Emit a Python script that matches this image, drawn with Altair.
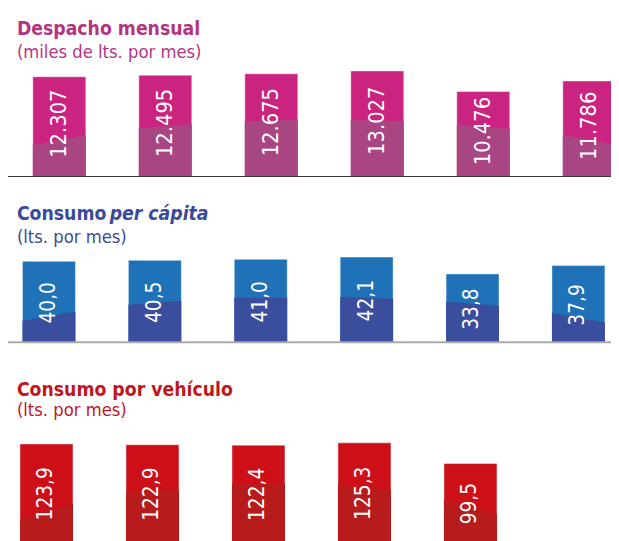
import altair as alt
import pandas as pd

# ---------------- data ----------------
despacho = [12307, 12495, 12675, 13027, 10476, 11786]          # miles de lts. por mes
despacho_shade_l = [3900, 5970, 6820, 6940, 6455, 5115]
despacho_shade_r = [5115, 6455, 7065, 6820, 5845, 3900]

per_capita = [40.0, 40.5, 41.0, 42.1, 33.8, 37.9]               # lts. por mes
per_capita_shade_l = [10.7, 18.5, 22.0, 22.4, 20.0, 14.6]
per_capita_shade_r = [15.1, 20.5, 22.0, 21.5, 18.0, 9.8]

vehiculo = [123.9, 122.9, 122.4, 125.3, 99.5]                   # lts. por mes
vehiculo_shade_l = [29.6, 63.0, 74.0, 72.8, 54.3]
vehiculo_shade_r = [49.4, 66.7, 74.0, 66.7, 37.0]

W, H = 611, 560
FONT = "'DejaVu Sans Condensed', 'Liberation Sans Narrow', sans-serif"
HALF = 0.25


def fmt_int(v):
    return f"{v:,}".replace(",", ".")


def fmt_dec(v):
    return f"{v:.1f}".replace(".", ",")


def panel(values, shade_l, shade_r, fmt, base_px, ppu, x0_px, step_px,
          top_col, low_col, title, subtitle, title_y, sub_y, title_col,
          rule_col=None, rule_w=1.0, italic_part=None, dx=0, label_size=21):
    n = len(values)
    bars = pd.DataFrame({
        "idx": list(range(n)),
        "value": values,
        "label": [fmt(v) for v in values],
    })
    bars["zero"] = 0.0
    bars["mid"] = bars["value"] / 2
    bars["xl"] = bars["idx"] - HALF
    bars["xr"] = bars["idx"] + HALF

    rows = []
    for i in range(n):
        rows.append({"idx": i, "x": i - HALF, "y": shade_l[i], "zero": 0.0})
        rows.append({"idx": i, "x": i + HALF, "y": shade_r[i], "zero": 0.0})
    shade = pd.DataFrame(rows)

    dmax = max(values)
    ys = alt.Scale(domain=[0, dmax], range=[base_px, base_px - dmax * ppu], nice=False, zero=False)
    xs = alt.Scale(domain=[0, 5], range=[x0_px, x0_px + 5 * step_px], nice=False, zero=False)

    layers = []
    layers.append(
        alt.Chart(bars).mark_rect(color=top_col, stroke="#ffffff", strokeOpacity=0.45,
                                  strokeWidth=1).encode(
            x=alt.X("xl:Q", scale=xs, axis=None), x2="xr:Q",
            y=alt.Y("value:Q", scale=ys, axis=None), y2="zero:Q")
    )
    layers.append(
        alt.Chart(shade).mark_area(color=low_col).encode(
            x=alt.X("x:Q", scale=xs, axis=None),
            y=alt.Y("y:Q", scale=ys, axis=None), y2="zero:Q",
            detail="idx:N")
    )
    layers.append(
        alt.Chart(bars).mark_text(angle=270, color="white", font=FONT, fontSize=label_size,
                                  align="center", baseline="middle", dx=dx).encode(
            x=alt.X("idx:Q", scale=xs, axis=None),
            y=alt.Y("mid:Q", scale=ys, axis=None),
            text="label:N")
    )
    if rule_col:
        layers.append(
            alt.Chart(pd.DataFrame({"zero": [0.0]})).mark_rule(color=rule_col, strokeWidth=rule_w).encode(
                x=alt.value(0), x2=alt.value(W),
                y=alt.Y("zero:Q", scale=ys, axis=None))
        )
    layers.append(
        alt.Chart(pd.DataFrame({"t": [title]})).mark_text(
            font=FONT, fontSize=19.5, fontWeight="bold", color=title_col,
            align="left", baseline="alphabetic").encode(
            x=alt.value(9), y=alt.value(title_y), text="t:N")
    )
    if italic_part:
        txt, xpos = italic_part
        layers.append(
            alt.Chart(pd.DataFrame({"t": [txt]})).mark_text(
                font=FONT, fontSize=19.5, fontWeight="bold", fontStyle="italic", color=title_col,
                align="left", baseline="alphabetic").encode(
                x=alt.value(xpos), y=alt.value(title_y), text="t:N")
        )
    layers.append(
        alt.Chart(pd.DataFrame({"t": [subtitle]})).mark_text(
            font=FONT, fontSize=18.5, color=title_col,
            align="left", baseline="alphabetic").encode(
            x=alt.value(9), y=alt.value(sub_y), text="t:N")
    )
    return layers


layers = []
layers += panel(despacho, despacho_shade_l, despacho_shade_r, fmt_int,
                base_px=167, ppu=0.00821, x0_px=52, step_px=107.4,
                top_col="#CB2380", low_col="#AA4583",
                title="Despacho mensual", subtitle="(miles de lts. por mes)",
                title_y=24, sub_y=47, title_col="#B4357F",
                rule_col="#3a3a3a", rule_w=1.2, dx=3, label_size=22)
layers += panel(per_capita, per_capita_shade_l, per_capita_shade_r, fmt_dec,
                base_px=335, ppu=2.05, x0_px=41.5, step_px=107.3,
                top_col="#1F71B8", low_col="#3B4D9D",
                title="Consumo", subtitle="(lts. por mes)",
                title_y=211, sub_y=234, title_col="#3A4A9A",
                rule_col="#aaaaaa", rule_w=2, italic_part=("per cápita", 103), dx=-1)
layers += panel(vehiculo, vehiculo_shade_l, vehiculo_shade_r, fmt_dec,
                base_px=539, ppu=0.815, x0_px=39, step_px=107.4,
                top_col="#CD0F17", low_col="#B71B1B",
                title="Consumo por vehículo", subtitle="(lts. por mes)",
                title_y=389, sub_y=410, title_col="#C1161D")

chart = alt.layer(*layers).resolve_scale(x="independent", y="independent").properties(
    width=W, height=H, padding=0, autosize=alt.AutoSizeParams(type="none")
).configure_view(stroke=None)

chart.save("out.html", embed_options={"renderer": "svg", "actions": False})
